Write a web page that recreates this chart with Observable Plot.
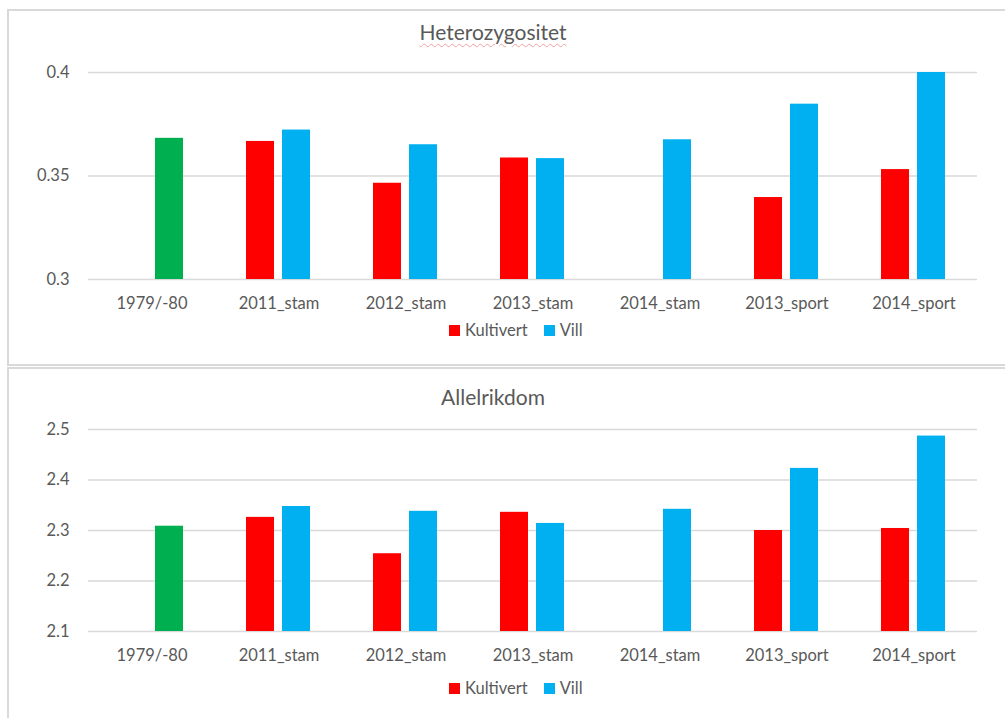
<!DOCTYPE html>
<html>
<head>
<meta charset="utf-8">
<script src="https://cdn.jsdelivr.net/npm/d3@7"></script>
<script src="https://cdn.jsdelivr.net/npm/@observablehq/plot@0.6"></script>
<style>
  html, body { margin: 0; padding: 0; background: #fff; }
  #wrap { position: relative; width: 1005px; height: 718px; overflow: hidden; font-family: Lato, "Open Sans", sans-serif; color: #595959; }
  .panel { position: absolute; border: 2px solid #d9d9d9; box-sizing: border-box; }
  .title { position: absolute; left: 0; width: 986px; text-align: center; font-size: 21px; line-height: 24px; color: #595959; }
  .legend { position: absolute; left: 449px; display: flex; align-items: center; font-size: 16.5px; line-height: 20px; color: #595959; }
  .sw { display: inline-block; width: 11px; height: 11px; margin-right: 5px; }
  .chart { position: absolute; left: 0; }
</style>
</head>
<body>
<div id="wrap">
  <div class="panel" style="left:7px;top:9px;width:1010px;height:357px;"></div>
  <div class="panel" style="left:7px;top:367px;width:1010px;height:360px;"></div>
  <div id="c1" class="chart" style="top:50px;"></div>
  <div id="c2" class="chart" style="top:405px;"></div>
  <div class="title" style="top:20px;"><span style="text-decoration: underline wavy #f0a0a0; text-decoration-thickness: 1px; text-underline-offset: 3px;">Heterozygositet</span></div>
  <div class="title" style="top:385px;">Allelrikdom</div>
  <div class="legend" style="top:320px;"><span class="sw" style="background:#ff0000"></span>Kultivert<span style="width:16px"></span><span class="sw" style="background:#00b0f0"></span>Vill</div>
  <div class="legend" style="top:678px;"><span class="sw" style="background:#ff0000"></span>Kultivert<span style="width:16px"></span><span class="sw" style="background:#00b0f0"></span>Vill</div>
</div>
<script>
// ---- data ----
const categories = ["1979/-80", "2011_stam", "2012_stam", "2013_stam", "2014_stam", "2013_sport", "2014_sport"];
const seriesNames = ["Kultivert", "Vill"];
const highlightCategory = "1979/-80";

const hetKultivert = [null, 0.3667, 0.3465, 0.3587, null, 0.3396, 0.3531];
const hetVill      = [0.3682, 0.3722, 0.3651, 0.3584, 0.3675, 0.3847, 0.4000];
const hetTicks = [0.3, 0.35, 0.4];

const allKultivert = [null, 2.326, 2.254, 2.336, null, 2.300, 2.304];
const allVill      = [2.3085, 2.3475, 2.338, 2.314, 2.342, 2.423, 2.487];
const allTicks = [2.1, 2.2, 2.3, 2.4, 2.5];

const colors = {Kultivert: "#ff0000", Vill: "#00b0f0", highlight: "#00b050"};

function rows(kult, vill) {
  const out = [];
  categories.forEach((c, i) => {
    if (kult[i] != null) out.push({cat: c, series: "Kultivert", value: kult[i]});
    if (vill[i] != null) out.push({cat: c, series: "Vill", value: vill[i]});
  });
  return out;
}

function chart(data, ticks, height, marginTop, marginBottom) {
  const base = ticks[0];
  return Plot.plot({
    width: 1005,
    height,
    marginLeft: 87,
    marginRight: 28,
    marginTop,
    marginBottom,
    style: {fontFamily: "Lato, 'Open Sans', sans-serif", fontSize: "16.5px", color: "#595959", background: "transparent", overflow: "visible"},
    fx: {domain: categories, padding: 0, axis: "bottom", label: null, tickSize: 0, tickPadding: 18},
    x: {domain: seriesNames, paddingInner: 0.216, paddingOuter: 0.84, axis: null},
    y: {domain: [ticks[0], ticks[ticks.length - 1]], ticks, tickSize: 0, tickPadding: 19, label: null, tickFormat: d => String(d)},
    marks: [
      Plot.ruleY(ticks, {stroke: "#d9d9d9", strokeWidth: 1.5}),
      Plot.barY(data, {
        fx: "cat", x: "series", y1: () => base, y2: "value",
        fill: d => d.cat === highlightCategory ? colors.highlight : colors[d.series],
        inset: 0
      })
    ]
  });
}

document.getElementById("c1").append(chart(rows(hetKultivert, hetVill), hetTicks, 275, 22, 46));
document.getElementById("c2").append(chart(rows(allKultivert, allVill), allTicks, 272, 24, 46));
</script>
</body>
</html>
